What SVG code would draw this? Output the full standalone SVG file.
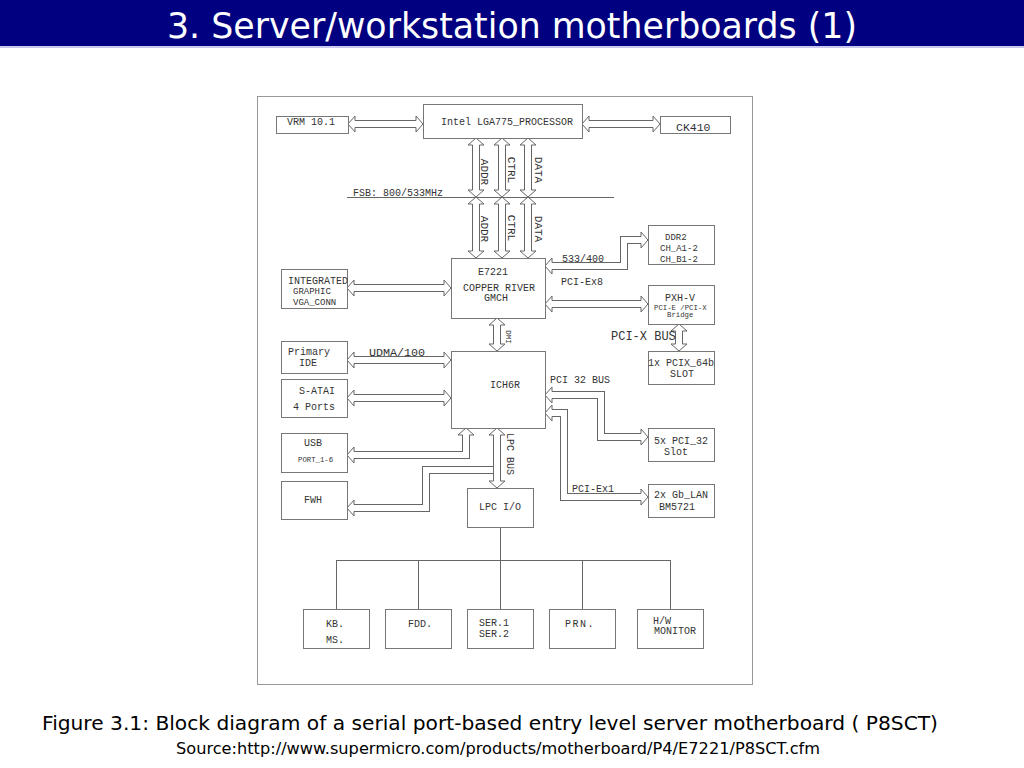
<svg xmlns="http://www.w3.org/2000/svg" width="1024" height="768" viewBox="0 0 1024 768">
<defs>
<style>
.bx{fill:#fff;stroke:#777;stroke-width:1}
.t{font-family:"Liberation Mono","DejaVu Sans Mono",monospace;font-size:10px;fill:#333}
.s9{font-size:9px}
.s7{font-size:7.3px}
.s12{font-size:11.7px}
.ao{fill:none;stroke:#666;stroke-width:8;stroke-linejoin:miter;marker-start:url(#h);marker-end:url(#h)}
.ai{fill:none;stroke:#fff;stroke-width:6;stroke-linejoin:miter}
.ln{fill:none;stroke:#666;stroke-width:1}
</style>
<marker id="h" markerUnits="userSpaceOnUse" markerWidth="10" markerHeight="20" viewBox="-1 -10 10 20" refX="0" refY="0" orient="auto-start-reverse" overflow="visible">
<polyline points="0,-3.5 0,-8 7,0 0,8 0,3.5" fill="#fff" stroke="#666" stroke-width="1"/>
</marker>
</defs>
<rect x="0" y="0" width="1024" height="768" fill="#fff"/>
<g id="header">
<rect x="0" y="0" width="1024" height="46" fill="#000080"/>
<rect x="0" y="46" width="1024" height="2" fill="#c8c8f0"/>
<text x="512" y="38" text-anchor="middle" font-family="DejaVu Sans, sans-serif" font-size="36" fill="#fff" textLength="690" lengthAdjust="spacingAndGlyphs">3. Server/workstation motherboards (1)</text>
</g>
<rect x="257.5" y="96.5" width="495" height="588" fill="none" stroke="#999" stroke-width="1"/>
<g id="connectors">
<line class="ln" x1="347" y1="197.5" x2="614" y2="197.5"/>
<text class="t" x="353" y="195.5">FSB: 800/533MHz</text>
<path class="ao" d="M355 124H416"/><path class="ai" d="M355 124H416"/>
<path class="ao" d="M589 124H653"/><path class="ai" d="M589 124H653"/>
<path class="ao" d="M476 145V190"/><path class="ai" d="M476 145V190"/>
<path class="ao" d="M476 204V251"/><path class="ai" d="M476 204V251"/>
<path class="ao" d="M502 145V190"/><path class="ai" d="M502 145V190"/>
<path class="ao" d="M502 204V251"/><path class="ai" d="M502 204V251"/>
<path class="ao" d="M528 145V190"/><path class="ai" d="M528 145V190"/>
<path class="ao" d="M528 204V251"/><path class="ai" d="M528 204V251"/>
<text class="t" font-size="11" transform="translate(481,172) rotate(90)" text-anchor="middle" style="font-size:11px">ADDR</text>
<text class="t" transform="translate(481,229) rotate(90)" text-anchor="middle" style="font-size:11px">ADDR</text>
<text class="t" transform="translate(508,170) rotate(90)" text-anchor="middle" style="font-size:11px">CTRL</text>
<text class="t" transform="translate(508,228) rotate(90)" text-anchor="middle" style="font-size:11px">CTRL</text>
<text class="t" transform="translate(535,170) rotate(90)" text-anchor="middle" style="font-size:11px">DATA</text>
<text class="t" transform="translate(535,229) rotate(90)" text-anchor="middle" style="font-size:11px">DATA</text>
<path class="ao" d="M552 266H624V240H641"/><path class="ai" d="M552 266H624V240H641"/>
<text class="t" x="562" y="262">533/400</text>
<path class="ao" d="M354 288H444"/><path class="ai" d="M354 288H444"/>
<path class="ao" d="M552 304H641"/><path class="ai" d="M552 304H641"/>
<text class="t" x="561" y="285">PCI-Ex8</text>
<path class="ao" d="M679 331V344"/><path class="ai" d="M679 331V344"/>
<text class="t" x="611" y="340" style="font-size:12px">PCI-X BUS</text>
<path class="ao" d="M497 325V344"/><path class="ai" d="M497 325V344"/>
<text class="t" transform="translate(506,337) rotate(90)" text-anchor="middle" style="font-size:7.5px">DMI</text>
<path class="ao" d="M354 360H444"/><path class="ai" d="M354 360H444"/>
<text class="t s12" x="369" y="356">UDMA/100</text>
<path class="ao" d="M354 398H444"/><path class="ai" d="M354 398H444"/>
<path class="ao" d="M354 455H466V435"/><path class="ai" d="M354 455H466V435"/>
<path class="ao" d="M497 435V481"/><path class="ai" d="M497 435V481"/>
<path class="ao" d="M354 508H426V470H493" style="marker-end:none"/><path class="ai" d="M354 508H426V470H493"/>
<text class="t" transform="translate(507,454) rotate(90)" text-anchor="middle">LPC BUS</text>
<path class="ao" d="M552 395H601V437H641"/><path class="ai" d="M552 395H601V437H641"/>
<text class="t" x="550" y="382.5">PCI 32 BUS</text>
<path class="ao" d="M552 413H564V497H641"/><path class="ai" d="M552 413H564V497H641"/>
<text class="t" x="572" y="491.5">PCI-Ex1</text>
<path class="ln" d="M500.5 527V560.5M336.5 560.5H670.5M336.5 560V609M418.5 560V609M500.5 560V609M582.5 560V609M670.5 560V609"/>
</g>
<g id="vrm"><rect class="bx" x="276.5" y="116.5" width="72" height="17"/><text class="t" x="287" y="125">VRM 10.1</text></g>
<g id="cpu"><rect class="bx" x="423.5" y="104.5" width="159" height="34"/><text class="t" x="441" y="125">Intel LGA775_PROCESSOR</text></g>
<g id="ck410"><rect class="bx" x="660.5" y="116.5" width="70" height="17"/><text class="t" x="676" y="131" style="font-size:11.5px">CK410</text></g>
<g id="gmch"><rect class="bx" x="451.5" y="258.5" width="94" height="60"/><text class="t" x="478" y="275">E7221</text><text class="t" x="463" y="291">COPPER RIVER</text><text class="t" x="484" y="301">GMCH</text></g>
<g id="ddr2"><rect class="bx" x="648.5" y="225.5" width="66" height="39"/><text class="t s9" x="665" y="240">DDR2</text><text class="t s9" x="660" y="250.5">CH_A1-2</text><text class="t s9" x="660" y="261.5">CH_B1-2</text></g>
<g id="graphic"><rect class="bx" x="281.5" y="269.5" width="66" height="39"/><text class="t" x="288" y="283.5">INTEGRATED</text><text class="t s9" x="293" y="294">GRAPHIC</text><text class="t s9" x="293" y="304.5">VGA_CONN</text></g>
<g id="pxh"><rect class="bx" x="648.5" y="285.5" width="66" height="39"/><text class="t" x="665" y="300.5">PXH-V</text><text class="t s7" x="654" y="310">PCI-E /PCI-X</text><text class="t s7" x="667" y="317">Bridge</text></g>
<g id="pcix"><rect class="bx" x="648.5" y="351.5" width="66" height="33"/><text class="t" x="648" y="366">1x PCIX_64b</text><text class="t" x="670" y="377">SLOT</text></g>
<g id="ide"><rect class="bx" x="281.5" y="341.5" width="66" height="32"/><text class="t" x="288" y="354.5">Primary</text><text class="t" x="299" y="365.5">IDE</text></g>
<g id="sata"><rect class="bx" x="281.5" y="379.5" width="66" height="38"/><text class="t" x="299" y="393.5">S-ATAI</text><text class="t" x="293" y="409.5">4 Ports</text></g>
<g id="ich6r"><rect class="bx" x="451.5" y="351.5" width="94" height="77"/><text class="t" x="490" y="387.5">ICH6R</text></g>
<g id="usb"><rect class="bx" x="281.5" y="433.5" width="66" height="39"/><text class="t" x="304" y="445.5">USB</text><text class="t s7" x="298" y="461.5">PORT_1-6</text></g>
<g id="fwh"><rect class="bx" x="281.5" y="481.5" width="66" height="38"/><text class="t" x="304" y="502.5">FWH</text></g>
<g id="lpcio"><rect class="bx" x="467.5" y="488.5" width="66" height="39"/><text class="t" x="479" y="509.5">LPC I/O</text></g>
<g id="pci32"><rect class="bx" x="648.5" y="428.5" width="66" height="33"/><text class="t" x="654" y="443.5">5x PCI_32</text><text class="t" x="664" y="454.5">Slot</text></g>
<g id="lan"><rect class="bx" x="648.5" y="484.5" width="66" height="33"/><text class="t" x="654" y="497.5">2x Gb_LAN</text><text class="t" x="659" y="509.5">BM5721</text></g>
<g id="kbms"><rect class="bx" x="303.5" y="609.5" width="66" height="39"/><text class="t" x="326" y="626.5">KB.</text><text class="t" x="326" y="642.5">MS.</text></g>
<g id="fdd"><rect class="bx" x="385.5" y="609.5" width="66" height="39"/><text class="t" x="408" y="626.5">FDD.</text></g>
<g id="ser"><rect class="bx" x="467.5" y="609.5" width="66" height="39"/><text class="t" x="479" y="626">SER.1</text><text class="t" x="479" y="637">SER.2</text></g>
<g id="prn"><rect class="bx" x="549.5" y="609.5" width="66" height="39"/><text class="t" x="565" y="626.5" style="letter-spacing:1.5px">PRN.</text></g>
<g id="hwmon"><rect class="bx" x="637.5" y="609.5" width="66" height="39"/><text class="t" x="653" y="623.5">H/W</text><text class="t" x="654" y="634">MONITOR</text></g>
<g id="caption">
<text x="490" y="730" text-anchor="middle" font-family="DejaVu Sans, sans-serif" font-size="20" fill="#000" textLength="896" lengthAdjust="spacingAndGlyphs">Figure 3.1: Block diagram of a serial port-based entry level server motherboard ( P8SCT)</text>
<text x="498" y="754" text-anchor="middle" font-family="DejaVu Sans, sans-serif" font-size="16" fill="#000" textLength="644" lengthAdjust="spacingAndGlyphs">Source:http://www.supermicro.com/products/motherboard/P4/E7221/P8SCT.cfm</text>
</g>
</svg>
